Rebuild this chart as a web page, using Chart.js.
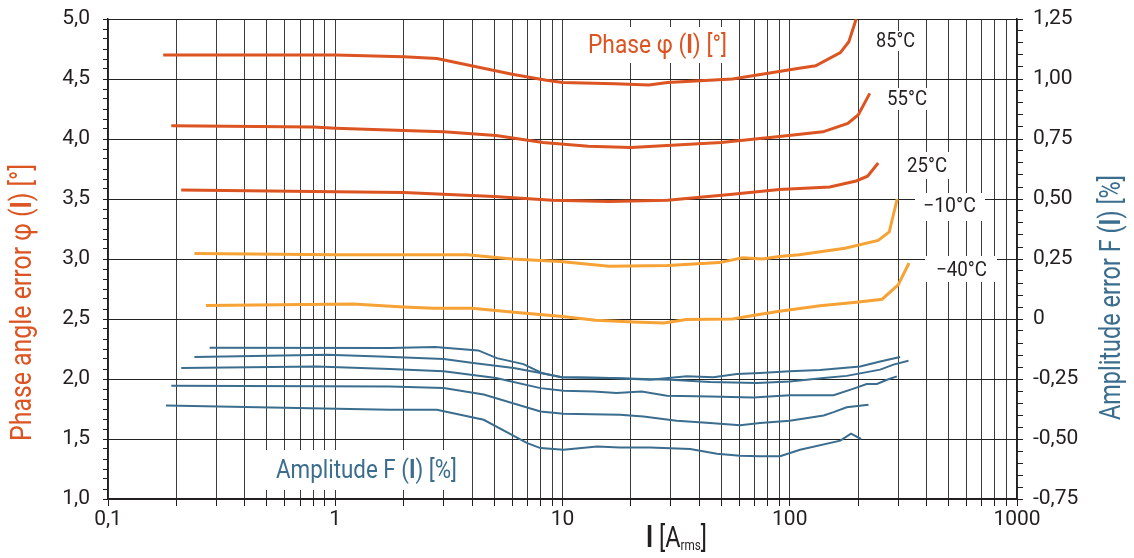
<!DOCTYPE html>
<html>
<head>
<meta charset="utf-8">
<script src="https://cdn.jsdelivr.net/npm/chart.js@4.4.1/dist/chart.umd.min.js"></script>
<style>
  html, body { margin: 0; padding: 0; background: #fff; }
  #wrap { width: 1134px; height: 558px; }
</style>
</head>
<body>
<div id="wrap"><canvas id="myChart" width="1134" height="558"></canvas></div>
<script>
// tick labels
const xTickValues = [0.1, 1, 10, 100, 1000];
const xTickLabels = ['0,1', '1', '10', '100', '1000'];
const leftTickLabels = ['1,0', '1,5', '2,0', '2,5', '3,0', '3,5', '4,0', '4,5', '5,0'];
const rightTickLabels = ['-0,75', '-0,50', '-0,25', '0', '0,25', '0,50', '0,75', '1,00', '1,25'];
const tempLabels = ['85°C', '55°C', '25°C', '−10°C', '−40°C'];

// phase error [°] (left axis)
const p85X = [0.175, 0.5, 1, 2, 2.8, 6, 8.5, 10, 17, 24, 29, 56, 110, 130, 167, 182, 196];
const p85Y = [4.70, 4.70, 4.70, 4.685, 4.67, 4.54, 4.49, 4.47, 4.46, 4.45, 4.47, 4.50, 4.59, 4.61, 4.72, 4.81, 5.0];
const p55X = [0.19, 0.8, 1, 2, 3, 5.1, 8.2, 13, 20, 50, 90, 140, 180, 200, 225];
const p55Y = [4.11, 4.10, 4.09, 4.07, 4.06, 4.03, 3.97, 3.94, 3.93, 3.97, 4.02, 4.06, 4.13, 4.20, 4.38];
const p25X = [0.21, 1, 2, 5, 9, 16, 29, 56, 90, 150, 196, 220, 245];
const p25Y = [3.575, 3.56, 3.555, 3.52, 3.49, 3.48, 3.49, 3.54, 3.58, 3.60, 3.65, 3.69, 3.80];
const pm10X = [0.24, 1, 3.8, 6, 9.8, 16, 29, 49, 62, 76, 90, 110, 175, 245, 274, 297];
const pm10Y = [3.045, 3.035, 3.035, 3.0, 2.98, 2.94, 2.945, 2.97, 3.01, 3.0, 3.02, 3.035, 3.09, 3.155, 3.225, 3.50];
const pm40X = [0.27, 1.2, 2, 2.7, 4, 6.3, 10, 14, 20.5, 28, 35, 56, 72, 90, 136, 196, 255, 300, 335];
const pm40Y = [2.613, 2.625, 2.60, 2.59, 2.59, 2.555, 2.52, 2.49, 2.475, 2.467, 2.495, 2.50, 2.535, 2.565, 2.61, 2.64, 2.665, 2.785, 2.967];

// amplitude error [%] (right axis)
const aAX = [0.28, 1.74, 2.75, 4.26, 5.14, 6.73, 8.11, 9.93, 16.2, 24.3, 35.2, 46.1, 58.5, 74.1, 100, 136, 204, 250, 306];
const aAY = [-0.120, -0.121, -0.117, -0.131, -0.163, -0.188, -0.225, -0.243, -0.246, -0.253, -0.239, -0.243, -0.229, -0.225, -0.218, -0.212, -0.198, -0.177, -0.158];
const aBX = [0.24, 0.92, 1.57, 3.0, 4.05, 6.1, 8.0, 9.9, 16.2, 29.8, 44.6, 71.7, 100, 141, 178, 250, 286, 333];
const aBY = [-0.158, -0.149, -0.156, -0.167, -0.183, -0.204, -0.225, -0.243, -0.246, -0.253, -0.263, -0.267, -0.26, -0.246, -0.237, -0.211, -0.19, -0.174];
const aCX = [0.21, 0.83, 1.74, 3.0, 5.1, 8.0, 10.1, 13.7, 17.3, 22.3, 28.8, 44.6, 69, 100, 156, 191, 218, 242, 268, 296];
const aCY = [-0.204, -0.198, -0.208, -0.218, -0.246, -0.288, -0.299, -0.302, -0.308, -0.302, -0.320, -0.323, -0.327, -0.318, -0.318, -0.29, -0.271, -0.271, -0.253, -0.239];
const aDX = [0.19, 1.74, 3.0, 4.5, 8.0, 10.1, 17.9, 22.7, 31.8, 44.6, 60.5, 74, 100, 141, 156, 178, 222];
const aDY = [-0.278, -0.281, -0.288, -0.315, -0.385, -0.395, -0.399, -0.406, -0.424, -0.433, -0.443, -0.433, -0.424, -0.402, -0.388, -0.368, -0.357];
const aEX = [0.18, 1.74, 2.8, 4.5, 7.0, 8.0, 10.1, 14.2, 17.9, 24.3, 36.5, 47.8, 60.5, 74, 90.7, 111, 167, 186, 206];
const aEY = [-0.36, -0.378, -0.378, -0.42, -0.517, -0.538, -0.545, -0.531, -0.535, -0.535, -0.542, -0.561, -0.570, -0.572, -0.572, -0.545, -0.507, -0.478, -0.50];

const DARK = '#dc5422';
const LIGHT = '#f7a234';
const BLUE = '#3b6d8f';
const INK = '#231f20';

function pts(xs, ys) { return xs.map((x, i) => ({x: x, y: ys[i]})); }

let datasets = [];
[[aAX, aAY], [aBX, aBY], [aCX, aCY], [aDX, aDY], [aEX, aEY]].forEach(s => {
    datasets.push({data: pts(s[0], s[1]), yAxisID: 'y2', borderColor: BLUE, borderWidth: 2, showLine: true, pointRadius: 0});
});
[[p85X, p85Y, DARK], [p55X, p55Y, DARK], [p25X, p25Y, DARK], [pm10X, pm10Y, LIGHT], [pm40X, pm40Y, LIGHT]].forEach(s => {
    datasets.push({data: pts(s[0], s[1]), yAxisID: 'y', borderColor: s[2], borderWidth: 3, showLine: true, pointRadius: 0});
});

function logTicks() {
    let out = [];
    [0.1, 1, 10, 100].forEach(d => {
        for (let m = 1; m <= 9; m++) out.push(Number((d * m).toPrecision(6)));
    });
    out.push(1000);
    return out;
}

// text runs squeezed to a given width (condensed look)
function runsWidth(ctx, runs) {
    let w = 0;
    runs.forEach(r => { ctx.font = r.font; w += ctx.measureText(r.t).width; });
    return w;
}
function drawRich(ctx, runs, x, y, width, color) {
    const w = runsWidth(ctx, runs);
    ctx.save();
    ctx.translate(x, y);
    ctx.scale(width / w, 1);
    ctx.fillStyle = color;
    ctx.textAlign = 'left';
    ctx.textBaseline = 'alphabetic';
    let cx = 0;
    runs.forEach(r => {
        ctx.font = r.font;
        ctx.fillText(r.t, cx, r.dy || 0);
        cx += ctx.measureText(r.t).width;
    });
    ctx.restore();
}
function drawVertical(ctx, runs, x, y, length, color) {
    ctx.save();
    ctx.translate(x, y);
    ctx.rotate(-Math.PI / 2);
    drawRich(ctx, runs, 0, 0, length, color);
    ctx.restore();
}

const F = 'Roboto, "Noto Sans", sans-serif';

const labelsPlugin = {
    id: 'labels',
    beforeDatasetsDraw(chart) {
        const ctx = chart.ctx;
        ctx.save();
        ctx.fillStyle = '#fff';
        // boxes behind in-plot labels
        [[575, 27, 160, 36], [257, 450, 208, 40],
         [869, 31, 53, 20], [880, 88, 53, 22], [900, 152, 53, 27], [915, 193, 70, 28], [925, 256, 72, 26]]
            .forEach(b => ctx.fillRect(b[0], b[1], b[2], b[3]));
        ctx.restore();

        drawRich(ctx, [{t: 'Phase φ (', font: '25px ' + F}, {t: 'I', font: 'bold 25px ' + F}, {t: ') [°]', font: '25px ' + F}],
            588, 53, 139, DARK);
        drawRich(ctx, [{t: 'Amplitude F (', font: '26px ' + F}, {t: 'I', font: 'bold 26px ' + F}, {t: ') [%]', font: '26px ' + F}],
            276, 478, 181, BLUE);

        const tpos = [[876, 47, 39], [887, 104.5, 40], [907, 172, 40], [923, 212, 53], [936, 276, 51]];
        tempLabels.forEach((t, i) => {
            drawRich(ctx, [{t: t, font: '20px ' + F}], tpos[i][0], tpos[i][1], tpos[i][2], INK);
        });
    },
    afterDraw(chart) {
        const ctx = chart.ctx;
        drawVertical(ctx, [{t: 'Phase angle error φ (', font: '30px ' + F}, {t: 'I', font: 'bold 30px ' + F}, {t: ') [°]', font: '30px ' + F}],
            31, 441, 277, DARK);
        drawVertical(ctx, [{t: 'Amplitude error F (', font: '30px ' + F}, {t: 'I', font: 'bold 30px ' + F}, {t: ') [%]', font: '30px ' + F}],
            1120, 420, 245, BLUE);
        drawRich(ctx, [{t: 'I', font: 'bold 31px ' + F}, {t: ' [A', font: '30px ' + F}, {t: 'rms', font: '15px ' + F, dy: 3}, {t: ']', font: '30px ' + F}],
            646, 547, 61, INK);
    }
};

const tickFont = {family: F, size: 21};

function noPad(s) {
    s.paddingTop = 0; s.paddingBottom = 0; s.paddingLeft = 0; s.paddingRight = 0;
}

const ctx = document.getElementById('myChart');
var chart = new Chart(ctx, {
    type: 'scatter',
    data: { datasets: datasets },
    plugins: [labelsPlugin],
    options: {
        responsive: false,
        animation: false,
        devicePixelRatio: 1,
        layout: { padding: { top: 19, left: 0, right: 0, bottom: 0 } },
        plugins: { legend: { display: false }, tooltip: { enabled: false } },
        elements: { line: { tension: 0 }, point: { radius: 0 } },
        scales: {
            x: {
                type: 'logarithmic',
                min: 0.1, max: 1000,
                afterBuildTicks: s => { s.ticks = logTicks().map(v => ({value: v})); },
                afterFit: s => { s.height = 59; noPad(s); },
                ticks: {
                    autoSkip: false, maxRotation: 0, padding: 1, color: INK, font: tickFont,
                    callback: v => {
                        const i = xTickValues.findIndex(t => Math.abs(t - v) < 1e-9 * t);
                        return i >= 0 ? xTickLabels[i] : '';
                    }
                },
                grid: { color: '#3c3c3c', lineWidth: 1, tickLength: 7, tickColor: INK },
                border: { color: INK, width: 1.5 }
            },
            y: {
                position: 'left',
                min: 1, max: 5,
                afterBuildTicks: s => {
                    let t = [];
                    for (let i = 0; i <= 48; i++) t.push({value: 1 + i / 12});
                    s.ticks = t;
                },
                afterFit: s => { s.width = 108; noPad(s); },
                ticks: {
                    autoSkip: false, padding: 13, color: INK, font: tickFont,
                    callback: (v, i) => i % 6 === 0 ? leftTickLabels[i / 6] : ''
                },
                grid: {
                    color: c => c.index % 6 === 0 ? '#222' : 'rgba(0,0,0,0)',
                    lineWidth: 1, tickLength: 5, tickColor: INK
                },
                border: { color: INK, width: 1.5 }
            },
            y2: {
                position: 'right',
                min: -0.75, max: 1.25,
                afterBuildTicks: s => {
                    let t = [];
                    for (let i = 0; i <= 40; i++) t.push({value: -0.75 + i * 0.05});
                    s.ticks = t;
                },
                afterFit: s => { s.width = 117; noPad(s); },
                ticks: {
                    autoSkip: false, padding: 10, color: INK, font: tickFont,
                    callback: (v, i) => i % 5 === 0 ? rightTickLabels[i / 5] : ''
                },
                grid: { drawOnChartArea: false, tickLength: 6, tickColor: INK },
                border: { color: INK, width: 1.5 }
            }
        }
    }
});
</script>
</body>
</html>
